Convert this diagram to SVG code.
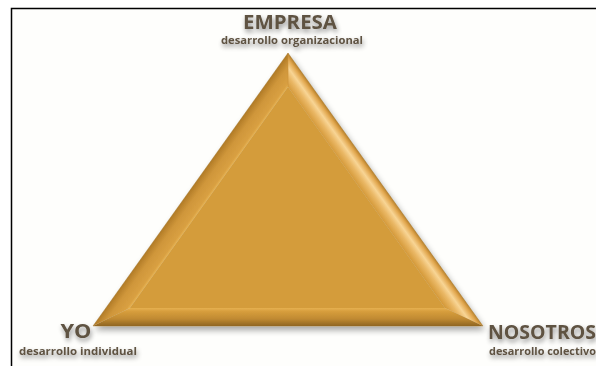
<svg xmlns="http://www.w3.org/2000/svg" width="596" height="366" viewBox="0 0 596 366">
<defs>
<style>
.t{font-family:"Open Sans","Liberation Sans",sans-serif;font-weight:bold;fill:#5e5242}
.big{font-size:19px}
.sm{font-size:10.5px}
</style>
<filter id="ts" x="-20%" y="-60%" width="140%" height="250%">
<feGaussianBlur in="SourceAlpha" stdDeviation="2.4"/>
<feOffset dx="1" dy="3" result="b"/>
<feComponentTransfer><feFuncA type="linear" slope="0.45"/></feComponentTransfer>
<feMerge><feMergeNode/><feMergeNode in="SourceGraphic"/></feMerge>
</filter>
<filter id="ds" x="-10%" y="-10%" width="120%" height="130%">
<feGaussianBlur in="SourceAlpha" stdDeviation="3"/>
<feOffset dx="2" dy="4"/>
<feComponentTransfer><feFuncA type="linear" slope="0.35"/></feComponentTransfer>
<feMerge><feMergeNode/><feMergeNode in="SourceGraphic"/></feMerge>
</filter>
<linearGradient id="gl" gradientUnits="userSpaceOnUse" x1="209" y1="197.5" x2="192.8" y2="185.9">
<stop offset="0" stop-color="#e8b453"/>
<stop offset="0.12" stop-color="#d9a042"/>
<stop offset="0.6" stop-color="#cf963a"/>
<stop offset="1" stop-color="#b07a26"/>
</linearGradient>
<linearGradient id="gr" gradientUnits="userSpaceOnUse" x1="366.5" y1="197.5" x2="382.7" y2="185.9">
<stop offset="0" stop-color="#d59a3a"/>
<stop offset="0.35" stop-color="#eab866"/>
<stop offset="0.6" stop-color="#f8d595"/>
<stop offset="0.85" stop-color="#e2a850"/>
<stop offset="1" stop-color="#bb842e"/>
</linearGradient>
<linearGradient id="gb" gradientUnits="userSpaceOnUse" x1="0" y1="308" x2="0" y2="326">
<stop offset="0" stop-color="#e6b050"/>
<stop offset="0.2" stop-color="#d69d3c"/>
<stop offset="0.6" stop-color="#c08a32"/>
<stop offset="1" stop-color="#8f6522"/>
</linearGradient>
</defs>
<rect width="596" height="366" fill="#ffffff"/>
<rect x="12" y="8" width="584" height="358" fill="#fefefc"/>
<path d="M11.5 366 V8.5 H596" fill="none" stroke="#000" stroke-width="1.5"/>

<g id="triangle" filter="url(#ds)">
<polygon points="288,53 93,326 130,308 288,87" fill="url(#gl)"/>
<polygon points="288,53 288,87 445,308 483,326" fill="url(#gr)"/>
<polygon points="93,326 483,326 445,308 130,308" fill="url(#gb)"/>
<polygon points="288,87 130,308 445,308" fill="#d49c3a"/>
<line x1="288" y1="53" x2="288" y2="87" stroke="#c99137" stroke-width="0.8" opacity="0.7"/>
<polygon points="288,53 93,326 483,326" fill="none" stroke="#9c6d22" stroke-width="0.8" opacity="0.5"/>
</g>

<g id="empresa" filter="url(#ts)">
<text class="t big" x="290" y="29" text-anchor="middle" textLength="94" lengthAdjust="spacingAndGlyphs">EMPRESA</text>
<text class="t sm" x="292" y="44" text-anchor="middle" textLength="142" lengthAdjust="spacingAndGlyphs">desarrollo organizacional</text>
</g>
<g id="yo" filter="url(#ts)">
<text class="t big" x="76" y="338" text-anchor="middle" textLength="31" lengthAdjust="spacingAndGlyphs">YO</text>
<text class="t sm" x="19" y="355" textLength="118" lengthAdjust="spacingAndGlyphs">desarrollo individual</text>
</g>
<g id="nosotros" filter="url(#ts)">
<text class="t big" x="488" y="339" textLength="108" lengthAdjust="spacingAndGlyphs">NOSOTROS</text>
<text class="t sm" x="489" y="355" textLength="107" lengthAdjust="spacingAndGlyphs">desarrollo colectivo</text>
</g>
<g id="connectors"/>
</svg>
